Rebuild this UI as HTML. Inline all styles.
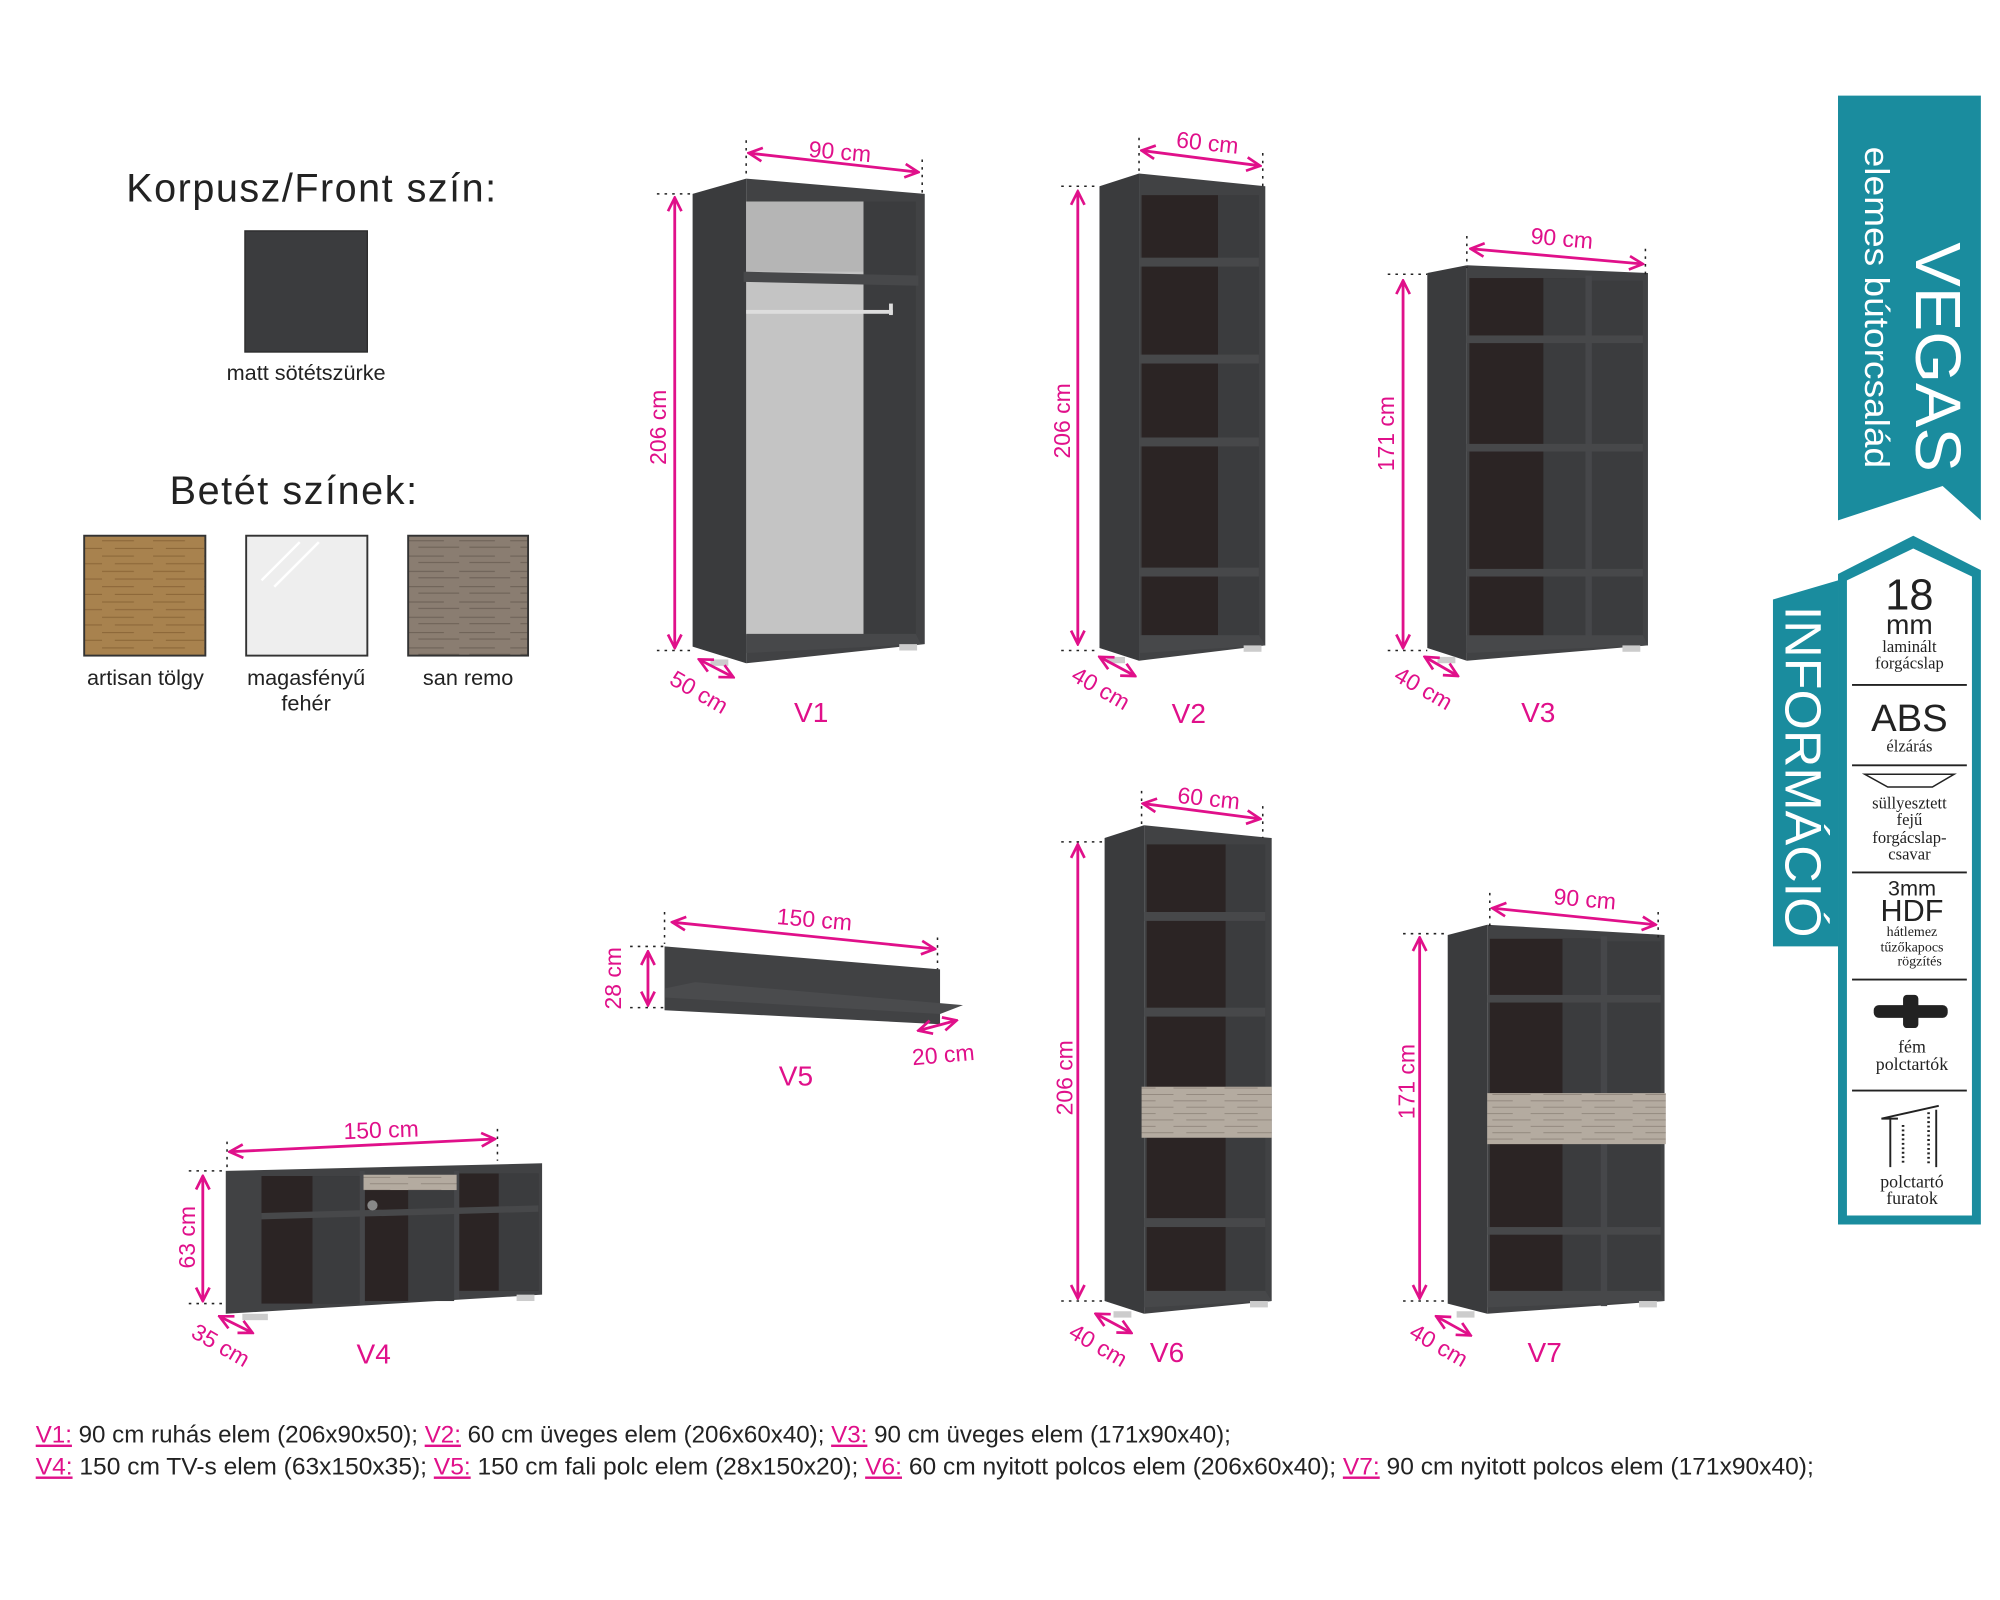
<!DOCTYPE html>
<html><head><meta charset="utf-8"><style>
html,body{margin:0;padding:0;background:#fff;width:2000px;height:1600px;overflow:hidden}
svg{display:block}
.t{font-family:"Liberation Sans Narrow","Liberation Sans",sans-serif;fill:#222}
.m{font-family:"Liberation Sans Narrow","Liberation Sans",sans-serif;fill:#e0108a}
.s{font-family:"Liberation Serif",serif;fill:#222;text-anchor:middle}
.w{font-family:"Liberation Sans",sans-serif;fill:#fff}
.a{stroke:#e0108a;stroke-width:2.2;fill:none}
.d{stroke:#222;stroke-width:1.2;stroke-dasharray:2 4;fill:none}
</style></head><body>
<svg width="2000" height="1600" viewBox="0 0 1568 1254.4" preserveAspectRatio="none">
<rect x="0" y="0" width="1568" height="1254.4" fill="#fff"/>
<defs>
<marker id="ar" viewBox="0 0 10 10" refX="9" refY="5" markerWidth="6" markerHeight="6" orient="auto-start-reverse"><path d="M1,1 L9,5 L1,9" fill="none" stroke="#e0108a" stroke-width="1.6"/></marker>
<pattern id="oak" width="40" height="12" patternUnits="userSpaceOnUse"><rect width="40" height="12" fill="#a8824e"/><path d="M0,4 H25 M10,10 H40" stroke="#8a6537" stroke-width="0.8"/></pattern>
<pattern id="sr" width="40" height="12" patternUnits="userSpaceOnUse"><rect width="40" height="12" fill="#8a7d71"/><path d="M0,4 H28 M8,9 H40" stroke="#6b5f55" stroke-width="0.8"/></pattern>
<pattern id="srl" width="40" height="10" patternUnits="userSpaceOnUse"><rect width="40" height="10" fill="#b4aba0"/><path d="M0,3 H26 M10,8 H40" stroke="#8f857b" stroke-width="0.7"/></pattern>
</defs>

<!-- Left legend -->
<text class="t" x="244" y="158" font-size="31" text-anchor="middle" textLength="290">Korpusz/Front szín:</text>
<rect x="192" y="181" width="96" height="95" fill="#3b3c3e" stroke="#2a2a2a"/>
<text class="t" x="240" y="298" font-size="17" text-anchor="middle">matt sötétszürke</text>
<text class="t" x="230" y="395" font-size="31" text-anchor="middle" textLength="194">Betét színek:</text>
<rect x="66" y="420" width="95" height="94" fill="url(#oak)" stroke="#333" stroke-width="1.5"/>
<rect x="193" y="420" width="95" height="94" fill="#eeeeee" stroke="#333" stroke-width="1.5"/>
<path d="M205,455 L235,425 M215,460 L250,425" stroke="#fff" stroke-width="2"/>
<rect x="320" y="420" width="94" height="94" fill="url(#sr)" stroke="#333" stroke-width="1.5"/>
<text class="t" x="114" y="537" font-size="17" text-anchor="middle">artisan tölgy</text>
<text class="t" x="240" y="537" font-size="17" text-anchor="middle">magasfényű</text>
<text class="t" x="240" y="557" font-size="17" text-anchor="middle">fehér</text>
<text class="t" x="367" y="537" font-size="17" text-anchor="middle">san remo</text>

<!-- V1 -->
<polygon points="543,152 585,140 585,520 543,507" fill="#3a3b3d"/>
<polygon points="585,140 725,152 725,505 585,520" fill="#414244"/>
<rect x="585" y="158" width="92" height="340" fill="#c4c4c4"/>
<rect x="585" y="158" width="92" height="55" fill="#b5b5b5"/>
<rect x="677" y="158" width="41" height="340" fill="#3b3c3e"/>
<polygon points="583,213 720,216 720,224 583,221" fill="#47484a"/>
<rect x="585" y="243" width="115" height="3" fill="#ddd"/>
<rect x="697" y="238" width="3" height="9" fill="#ddd"/>
<polygon points="585,497 718,497 722,505 585,512" fill="#47484a"/>
<rect x="557" y="517" width="14" height="5" fill="#ccc"/><rect x="705" y="505" width="14" height="5" fill="#ccc"/>

<!-- V2 -->
<polygon points="862,146 893,136 893,518 862,508" fill="#3a3b3d"/>
<polygon points="893,136 992,146 992,506 893,518" fill="#414244"/>
<rect x="895" y="153" width="60" height="345" fill="#2b2424"/>
<rect x="955" y="153" width="32" height="345" fill="#3b3c3e"/>
<rect x="893" y="202" width="94" height="7" fill="#47484a"/>
<rect x="893" y="278" width="94" height="7" fill="#47484a"/>
<rect x="893" y="343" width="94" height="7" fill="#47484a"/>
<rect x="893" y="445" width="94" height="7" fill="#47484a"/>
<polygon points="893,498 987,498 992,506 893,512" fill="#47484a"/>
<rect x="868" y="515" width="14" height="5" fill="#ccc"/><rect x="975" y="506" width="14" height="5" fill="#ccc"/>

<!-- V3 -->
<polygon points="1119,214 1150,208 1150,518 1119,508" fill="#3a3b3d"/>
<polygon points="1150,208 1292,214 1292,506 1150,518" fill="#414244"/>
<rect x="1152" y="218" width="76" height="282" fill="#2b2424"/>
<rect x="1210" y="218" width="33" height="282" fill="#3b3c3e"/>
<rect x="1248" y="220" width="40" height="280" fill="#3b3c3e"/>
<rect x="1243" y="216" width="5" height="290" fill="#46474a"/>
<rect x="1150" y="263" width="138" height="6" fill="#47484a"/>
<rect x="1150" y="348" width="138" height="6" fill="#47484a"/>
<rect x="1150" y="446" width="138" height="6" fill="#47484a"/>
<polygon points="1150,498 1288,498 1292,506 1150,512" fill="#47484a"/>
<rect x="1127" y="515" width="14" height="5" fill="#ccc"/><rect x="1272" y="506" width="14" height="5" fill="#ccc"/>

<!-- V6 -->
<polygon points="866,657 897,647 897,1030 866,1020" fill="#3a3b3d"/>
<polygon points="897,647 997,657 997,1020 897,1030" fill="#414244"/>
<rect x="899" y="662" width="62" height="353" fill="#2b2424"/>
<rect x="961" y="662" width="31" height="353" fill="#3b3c3e"/>
<rect x="897" y="715" width="95" height="7" fill="#47484a"/>
<rect x="897" y="790" width="95" height="7" fill="#47484a"/>
<rect x="895" y="852" width="102" height="40" fill="url(#srl)"/>
<rect x="897" y="955" width="95" height="7" fill="#47484a"/>
<polygon points="897,1012 992,1012 997,1020 897,1025" fill="#47484a"/>
<rect x="873" y="1028" width="14" height="5" fill="#ccc"/><rect x="980" y="1020" width="14" height="5" fill="#ccc"/>

<!-- V7 -->
<polygon points="1135,733 1166,725 1166,1030 1135,1022" fill="#3a3b3d"/>
<polygon points="1166,725 1305,733 1305,1020 1166,1030" fill="#414244"/>
<rect x="1168" y="736" width="80" height="280" fill="#2b2424"/>
<rect x="1225" y="736" width="30" height="280" fill="#3b3c3e"/>
<rect x="1260" y="738" width="42" height="278" fill="#3b3c3e"/>
<rect x="1255" y="734" width="5" height="290" fill="#46474a"/>
<rect x="1166" y="780" width="136" height="6" fill="#47484a"/>
<rect x="1166" y="857" width="140" height="40" fill="url(#srl)"/>
<rect x="1166" y="962" width="136" height="6" fill="#47484a"/>
<polygon points="1166,1012 1302,1012 1305,1020 1166,1025" fill="#47484a"/>
<rect x="1142" y="1028" width="14" height="5" fill="#ccc"/><rect x="1285" y="1020" width="14" height="5" fill="#ccc"/>

<!-- V4 -->
<polygon points="177,918 425,912 425,1015 177,1030" fill="#414244"/>
<rect x="205" y="922" width="77" height="100" fill="#2b2424"/>
<rect x="245" y="922" width="37" height="100" fill="#3b3c3e"/>
<rect x="286" y="930" width="70" height="90" fill="#2b2424"/>
<rect x="320" y="930" width="36" height="90" fill="#3b3c3e"/>
<rect x="360" y="920" width="62" height="92" fill="#2b2424"/>
<rect x="391" y="920" width="31" height="92" fill="#3b3c3e"/>
<rect x="282" y="918" width="4" height="105" fill="#46474a"/>
<rect x="356" y="918" width="4" height="100" fill="#46474a"/>
<polygon points="205,951 422,945 422,950 205,956" fill="#47484a"/>
<rect x="285" y="921" width="73" height="12" fill="url(#srl)"/>
<circle cx="292" cy="945" r="4" fill="#888"/>
<rect x="190" y="1030" width="20" height="5" fill="#ccc"/><rect x="405" y="1015" width="14" height="5" fill="#ccc"/>

<!-- V5 -->
<polygon points="521,742 737,760 737,803 521,792" fill="#414244"/>
<polygon points="521,775 545,770 755,788 737,795 521,782" fill="#4a4b4d"/>

<!-- Dimensions -->
<g class="a">
<line x1="587" y1="120" x2="720" y2="135" marker-start="url(#ar)" marker-end="url(#ar)"/>
<line x1="529" y1="155" x2="529" y2="508" marker-start="url(#ar)" marker-end="url(#ar)"/>
<line x1="548" y1="517" x2="575" y2="531" marker-start="url(#ar)" marker-end="url(#ar)"/>
<line x1="895" y1="118" x2="988" y2="130" marker-start="url(#ar)" marker-end="url(#ar)"/>
<line x1="845" y1="150" x2="845" y2="505" marker-start="url(#ar)" marker-end="url(#ar)"/>
<line x1="862" y1="515" x2="890" y2="530" marker-start="url(#ar)" marker-end="url(#ar)"/>
<line x1="1153" y1="195" x2="1288" y2="207" marker-start="url(#ar)" marker-end="url(#ar)"/>
<line x1="1100" y1="220" x2="1100" y2="508" marker-start="url(#ar)" marker-end="url(#ar)"/>
<line x1="1117" y1="515" x2="1143" y2="530" marker-start="url(#ar)" marker-end="url(#ar)"/>
<line x1="896" y1="630" x2="988" y2="642" marker-start="url(#ar)" marker-end="url(#ar)"/>
<line x1="845" y1="662" x2="845" y2="1018" marker-start="url(#ar)" marker-end="url(#ar)"/>
<line x1="859" y1="1030" x2="887" y2="1045" marker-start="url(#ar)" marker-end="url(#ar)"/>
<line x1="1170" y1="712" x2="1298" y2="725" marker-start="url(#ar)" marker-end="url(#ar)"/>
<line x1="1113" y1="735" x2="1113" y2="1018" marker-start="url(#ar)" marker-end="url(#ar)"/>
<line x1="1126" y1="1032" x2="1153" y2="1047" marker-start="url(#ar)" marker-end="url(#ar)"/>
<line x1="527" y1="723" x2="733" y2="744" marker-start="url(#ar)" marker-end="url(#ar)"/>
<line x1="508" y1="746" x2="508" y2="788" marker-start="url(#ar)" marker-end="url(#ar)"/>
<line x1="720" y1="808" x2="750" y2="800" marker-start="url(#ar)" marker-end="url(#ar)"/>
<line x1="180" y1="903" x2="388" y2="893" marker-start="url(#ar)" marker-end="url(#ar)"/>
<line x1="159" y1="922" x2="159" y2="1020" marker-start="url(#ar)" marker-end="url(#ar)"/>
<line x1="172" y1="1032" x2="198" y2="1045" marker-start="url(#ar)" marker-end="url(#ar)"/>
</g>
<g class="d">
<path d="M585,110 V140 M723,125 V152 M515,152 H543 M515,510 H543"/>
<path d="M893,108 V138 M990,120 V146 M832,146 H862 M832,510 H862"/>
<path d="M1150,185 V210 M1290,195 V215 M1088,215 H1119 M1088,510 H1119"/>
<path d="M895,620 V648 M990,632 V657 M832,660 H866 M832,1020 H866"/>
<path d="M1168,700 V727 M1300,715 V735 M1100,732 H1135 M1100,1020 H1135"/>
<path d="M521,715 V740 M735,735 V760 M494,742 H521 M494,790 H521"/>
<path d="M178,895 V918 M390,885 V910 M148,918 H178 M148,1022 H178"/>
</g>
<g class="m" font-size="18">
<text x="658" y="125" transform="rotate(5 658 125)" text-anchor="middle">90 cm</text>
<text x="522" y="335" transform="rotate(-90 522 335)" text-anchor="middle">206 cm</text>
<text x="545" y="548" transform="rotate(30 545 548)" text-anchor="middle">50 cm</text>
<text x="946" y="118" transform="rotate(6 946 118)" text-anchor="middle">60 cm</text>
<text x="839" y="330" transform="rotate(-90 839 330)" text-anchor="middle">206 cm</text>
<text x="860" y="545" transform="rotate(30 860 545)" text-anchor="middle">40 cm</text>
<text x="1224" y="193" transform="rotate(5 1224 193)" text-anchor="middle">90 cm</text>
<text x="1093" y="340" transform="rotate(-90 1093 340)" text-anchor="middle">171 cm</text>
<text x="1113" y="545" transform="rotate(30 1113 545)" text-anchor="middle">40 cm</text>
<text x="947" y="632" transform="rotate(6 947 632)" text-anchor="middle">60 cm</text>
<text x="841" y="845" transform="rotate(-90 841 845)" text-anchor="middle">206 cm</text>
<text x="858" y="1060" transform="rotate(30 858 1060)" text-anchor="middle">40 cm</text>
<text x="1242" y="711" transform="rotate(5 1242 711)" text-anchor="middle">90 cm</text>
<text x="1109" y="848" transform="rotate(-90 1109 848)" text-anchor="middle">171 cm</text>
<text x="1125" y="1060" transform="rotate(30 1125 1060)" text-anchor="middle">40 cm</text>
<text x="638" y="727" transform="rotate(5 638 727)" text-anchor="middle">150 cm</text>
<text x="487" y="767" transform="rotate(-90 487 767)" text-anchor="middle">28 cm</text>
<text x="740" y="833" transform="rotate(-5 740 833)" text-anchor="middle">20 cm</text>
<text x="299" y="892" transform="rotate(-2 299 892)" text-anchor="middle">150 cm</text>
<text x="153" y="970" transform="rotate(-90 153 970)" text-anchor="middle">63 cm</text>
<text x="170" y="1060" transform="rotate(30 170 1060)" text-anchor="middle">35 cm</text>
</g>
<g class="m" font-size="22" font-family="Liberation Sans" text-anchor="middle">
<text x="636" y="566">V1</text><text x="932" y="567">V2</text><text x="1206" y="566">V3</text>
<text x="624" y="851">V5</text><text x="293" y="1069">V4</text><text x="915" y="1068">V6</text><text x="1211" y="1068">V7</text>
</g>

<!-- Bottom description -->
<g font-size="19">
<text class="t" x="28" y="1131" textLength="937" lengthAdjust="spacingAndGlyphs"><tspan class="m" text-decoration="underline">V1:</tspan> 90 cm ruhás elem (206x90x50); <tspan class="m" text-decoration="underline">V2:</tspan> 60 cm üveges elem (206x60x40); <tspan class="m" text-decoration="underline">V3:</tspan> 90 cm üveges elem (171x90x40);</text>
<text class="t" x="28" y="1156" textLength="1394" lengthAdjust="spacingAndGlyphs"><tspan class="m" text-decoration="underline">V4:</tspan> 150 cm TV-s elem (63x150x35); <tspan class="m" text-decoration="underline">V5:</tspan> 150 cm fali polc elem (28x150x20); <tspan class="m" text-decoration="underline">V6:</tspan> 60 cm nyitott polcos elem (206x60x40); <tspan class="m" text-decoration="underline">V7:</tspan> 90 cm nyitott polcos elem (171x90x40);</text>
</g>

<!-- Right banner -->
<polygon points="1441,75 1553,75 1553,408 1523,381 1441,408" fill="#1a8c9e"/>
<text class="w" x="1502" y="190" font-size="50" transform="rotate(90 1502 190)" textLength="180" lengthAdjust="spacingAndGlyphs">VEGAS</text>
<text class="w" x="1462" y="115" font-size="27" transform="rotate(90 1462 115)" textLength="252" lengthAdjust="spacingAndGlyphs">elemes bútorcsalád</text>

<polygon points="1390,470 1441,455 1441,742 1390,742" fill="#1a8c9e"/>
<text class="w" x="1400" y="475" font-size="40" transform="rotate(90 1400 475)" textLength="260" lengthAdjust="spacingAndGlyphs">INFORMÁCIÓ</text>
<polygon points="1441,450 1500,420 1553,447 1553,960 1441,960" fill="#1a8c9e"/>
<polygon points="1448,455 1500,430 1546,452 1546,953 1448,953" fill="#fff"/>

<text x="1497" y="478" font-size="34" font-family="Liberation Sans" text-anchor="middle" fill="#222">18</text>
<text x="1497" y="497" font-size="22" font-family="Liberation Sans" text-anchor="middle" fill="#222">mm</text>
<text class="s" x="1497" y="511" font-size="13">laminált</text>
<text class="s" x="1497" y="524" font-size="13">forgácslap</text>
<line x1="1452" y1="537" x2="1542" y2="537" stroke="#222" stroke-width="1.5"/>
<text x="1497" y="573" font-size="30" font-family="Liberation Sans" text-anchor="middle" fill="#222">ABS</text>
<text class="s" x="1497" y="589" font-size="13">élzárás</text>
<line x1="1452" y1="600" x2="1542" y2="600" stroke="#222" stroke-width="1.5"/>
<path d="M1462,607 L1532,607 L1515,617 L1480,617 Z" fill="none" stroke="#222" stroke-width="1.2"/>
<text class="s" x="1497" y="634" font-size="13">süllyesztett</text>
<text class="s" x="1497" y="647" font-size="13">fejű</text>
<text class="s" x="1497" y="661" font-size="13">forgácslap-</text>
<text class="s" x="1497" y="674" font-size="13">csavar</text>
<line x1="1452" y1="684" x2="1542" y2="684" stroke="#222" stroke-width="1.5"/>
<text x="1499" y="702" font-size="17" font-family="Liberation Sans" text-anchor="middle" fill="#222">3mm</text>
<text x="1499" y="722" font-size="24" font-family="Liberation Sans" text-anchor="middle" fill="#222">HDF</text>
<text class="s" x="1499" y="734" font-size="11">hátlemez</text>
<text class="s" x="1499" y="746" font-size="11">tűzőkapocs</text>
<text class="s" x="1505" y="757" font-size="11">rögzítés</text>
<line x1="1452" y1="768" x2="1542" y2="768" stroke="#222" stroke-width="1.5"/>
<rect x="1469" y="788" width="58" height="10" rx="4" fill="#222"/>
<rect x="1492" y="780" width="12" height="26" rx="3" fill="#222"/>
<text class="s" x="1499" y="825" font-size="14">fém</text>
<text class="s" x="1499" y="839" font-size="14">polctartók</text>
<line x1="1452" y1="855" x2="1542" y2="855" stroke="#222" stroke-width="1.5"/>
<path d="M1475,877 L1520,867 M1475,877 L1488,877 M1482,877 V915 M1518,870 V915" stroke="#222" stroke-width="1.5" fill="none"/>
<path d="M1492,882 V912 M1512,872 V912" stroke="#222" stroke-width="2" stroke-dasharray="1.5 2" fill="none"/>
<text class="s" x="1499" y="931" font-size="14">polctartó</text>
<text class="s" x="1499" y="944" font-size="14">furatok</text>
</svg>
</body></html>
